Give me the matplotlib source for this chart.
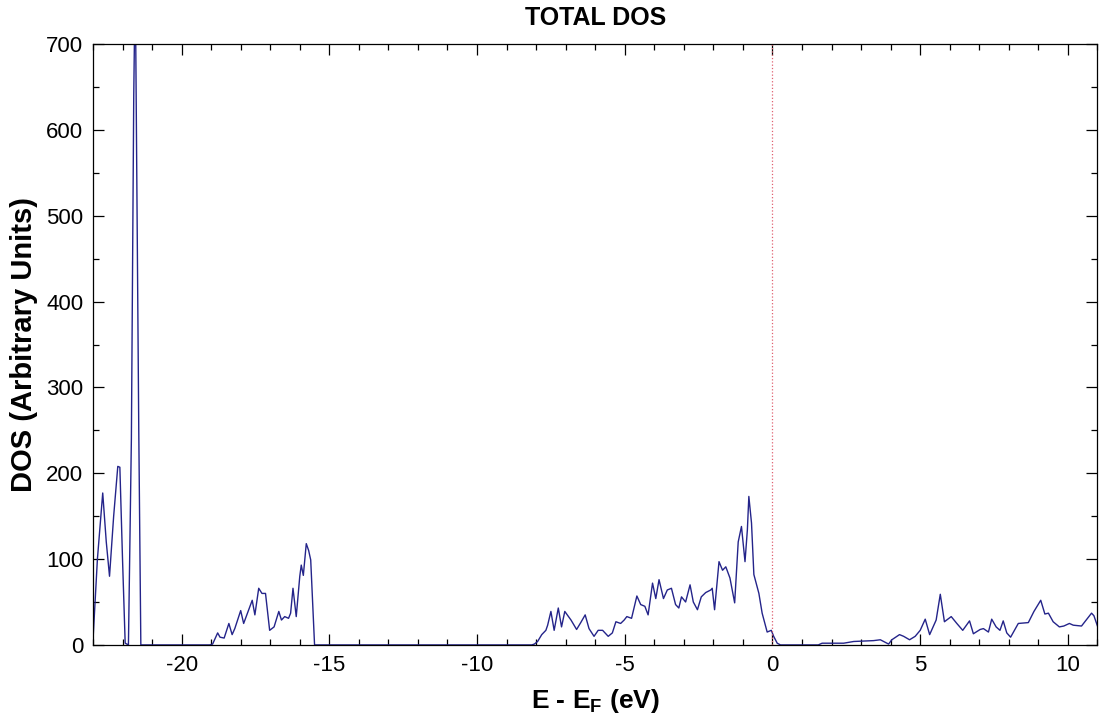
import matplotlib
matplotlib.use("Agg")
import matplotlib.pyplot as plt
from matplotlib.ticker import MultipleLocator

plt.rcParams['font.family'] = ['Liberation Sans', 'DejaVu Sans']
plt.rcParams['mathtext.fontset'] = 'custom'
plt.rcParams['mathtext.rm'] = 'Liberation Sans'
plt.rcParams['mathtext.bf'] = 'Liberation Sans:bold'
plt.rcParams['axes.unicode_minus'] = False

# энергия (эВ) и плотность состояний
energy_low = [-23.0, -22.85, -22.67, -22.55, -22.44, -22.3, -22.16, -22.09, -22.0,
              -21.91, -21.8, -21.7, -21.62, -21.57, -21.5, -21.45, -21.38]
dos_low = [5, 100, 177, 120, 80, 150, 208, 207, 100,
           2, 0, 240, 640, 780, 480, 250, 0]

energy_s = [-19.05, -18.95, -18.78, -18.7, -18.56, -18.4, -18.29, -18.2, -18.0, -17.9,
            -17.77, -17.61, -17.52, -17.39, -17.28, -17.16, -17.02, -16.87, -16.71,
            -16.62, -16.51, -16.38, -16.31, -16.23, -16.12, -16.0, -15.95, -15.88,
            -15.78, -15.7, -15.63, -15.5]
dos_s = [0, 1, 14, 9, 8, 25, 12, 19, 40, 25,
         37, 52, 35, 66, 60, 60, 17, 21, 39,
         29, 33, 31, 37, 66, 33, 80, 93, 81,
         118, 110, 99, 0]

energy_val = [-8.15, -8.06, -7.95, -7.81, -7.67, -7.61, -7.5, -7.39, -7.25, -7.14, -7.03,
              -6.82, -6.63, -6.49, -6.34, -6.21, -6.04, -5.9, -5.75, -5.56, -5.42,
              -5.3, -5.14, -5.02, -4.93, -4.77, -4.59, -4.46, -4.32, -4.21, -4.06,
              -3.95, -3.84, -3.69, -3.56, -3.42, -3.28, -3.17, -3.08, -2.94, -2.79,
              -2.68, -2.54, -2.41, -2.26, -2.09, -2.04, -1.96, -1.81, -1.69, -1.58,
              -1.44, -1.28, -1.16, -1.05, -0.93, -0.85, -0.8, -0.71, -0.63, -0.46,
              -0.35, -0.18, -0.04, 0.04, 0.16, 0.27]
dos_val = [0, 1, 4, 12, 17, 23, 39, 17, 43, 21, 39,
           29, 18, 26, 35, 19, 10, 17, 17, 10, 14,
           27, 25, 29, 33, 31, 57, 47, 45, 35, 72,
           54, 76, 54, 64, 66, 47, 43, 56, 50, 70,
           50, 41, 56, 61, 64, 66, 41, 97, 87, 91,
           78, 49, 120, 138, 97, 134, 173, 142, 82, 60,
           37, 15, 17, 10, 2, 0]

energy_cond = [1.55, 1.68, 2.41, 2.75, 3.42, 3.65, 3.93, 4.04, 4.3, 4.44, 4.64,
               4.83, 5.0, 5.17, 5.32, 5.54, 5.68, 5.82, 6.05, 6.24, 6.44, 6.67,
               6.8, 7.03, 7.14, 7.31, 7.42, 7.57, 7.7, 7.81, 7.93, 8.06, 8.32,
               8.66, 8.85, 9.08, 9.22, 9.34, 9.5, 9.71, 9.86, 10.05, 10.18, 10.46,
               10.8, 10.88, 11.05]
dos_cond = [0, 2, 2, 4, 5, 6, 1, 6, 12, 10, 6,
            10, 17, 30, 12, 29, 59, 27, 33, 25, 17, 28,
            13, 18, 19, 15, 30, 21, 17, 28, 14, 9, 25,
            26, 39, 52, 36, 37, 27, 21, 22, 25, 23, 22,
            37, 34, 17]

energy = energy_low + energy_s + energy_val + energy_cond
dos = dos_low + dos_s + dos_val + dos_cond

fig = plt.figure(figsize=(10.99, 7.23), dpi=100)
ax = fig.add_axes([0.0846, 0.108, 0.914, 0.831])

ax.plot(energy, dos, color='#24248a', lw=1.0)
ax.axvline(0, color='#e06070', ls=':', lw=0.9)

ax.set_xlim(-23, 11)
ax.set_ylim(0, 700)
ax.xaxis.set_major_locator(MultipleLocator(5))
ax.xaxis.set_minor_locator(MultipleLocator(1))
ax.yaxis.set_major_locator(MultipleLocator(100))
ax.yaxis.set_minor_locator(MultipleLocator(50))
ax.tick_params(which='both', direction='in', top=True, right=True, labelsize=16, width=0.9)
ax.tick_params(which='major', length=8, pad=7)
ax.tick_params(which='minor', length=4)
for s in ax.spines.values():
    s.set_linewidth(0.9)

ax.set_title('TOTAL DOS', fontsize=18, fontweight='bold', pad=14)
ax.set_xlabel(r'E - E$_{\mathbf{F}}$ (eV)', fontsize=19, fontweight='bold', labelpad=8)
ax.set_ylabel('DOS (Arbitrary Units)', fontsize=21, fontweight='bold', labelpad=6)

fig.savefig('out.png', dpi=100)
